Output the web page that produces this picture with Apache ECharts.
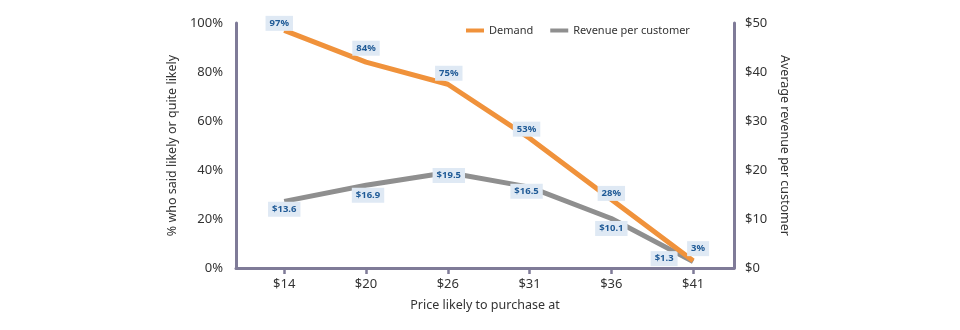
<!DOCTYPE html>
<html>
<head>
<meta charset="utf-8">
<script src="https://cdn.jsdelivr.net/npm/echarts@6/dist/echarts.min.js"></script>
<style>
  html, body { margin: 0; padding: 0; background: #fff; }
  #chart { width: 960px; height: 330px; }
</style>
</head>
<body>
<div id="chart"></div>
<script>
// Price points and survey results
const priceLabels = ['$14', '$20', '$26', '$31', '$36', '$41'];
const demandPct = [97, 84, 75, 53, 28, 3];
const revenuePerCustomer = [13.6, 16.9, 19.5, 16.5, 10.1, 1.3];
const leftTicks = [0, 20, 40, 60, 80, 100];
const rightTicks = [0, 10, 20, 30, 40, 50];

// Label nudges (pixels) so value tags sit clear of the lines
const demandLabelOffsets = [[-5, -7], [0, -14], [1, -11], [-3, -9], [0, -6], [5, -12]];
const revenueLabelOffsets = [[0, 8], [2, 10], [1, 3], [-3, 4], [0, 10], [-29, -3]];

const axisColor = '#7f7b98';
const textColor = '#333333';
const fontFamily = '"Noto Sans", "Open Sans", sans-serif';
const positions = priceLabels.map((_, i) => i);

const tagStyle = {
  show: true,
  position: 'inside',
  fontSize: 9.5,
  fontWeight: 'bold',
  fontFamily: fontFamily,
  color: '#1f5a96',
  backgroundColor: '#dfe9f4',
  padding: [3, 4, 2, 4]
};

function points(values, offsets, fmt) {
  return values.map((v, i) => ({
    value: [positions[i], v],
    label: { offset: offsets[i], formatter: fmt(v) }
  }));
}

const chart = echarts.init(document.getElementById('chart'), null, { renderer: 'canvas' });
chart.setOption({
  animation: false,
  textStyle: { fontFamily: fontFamily },
  legend: {
    top: 20,
    left: 461,
    itemWidth: 18,
    itemHeight: 4,
    itemGap: 17,
    icon: 'rect',
    textStyle: { fontSize: 11, color: textColor, fontFamily: fontFamily },
    data: ['Demand', 'Revenue per customer']
  },
  grid: { left: 236, right: 226, top: 23, bottom: 62, containLabel: false },
  xAxis: {
    type: 'value',
    min: -0.59,
    max: 5.5,
    name: 'Price likely to purchase at',
    nameLocation: 'middle',
    nameGap: 31,
    nameTextStyle: { fontSize: 12.5, color: textColor },
    axisLine: { show: true, onZero: false, lineStyle: { color: axisColor, width: 3 } },
    axisTick: { show: true, customValues: positions, length: 6, lineStyle: { color: axisColor, width: 2.5 } },
    axisLabel: {
      customValues: positions,
      formatter: v => priceLabels[Math.round(v)],
      fontSize: 13, color: textColor, margin: 10
    },
    splitLine: { show: false }
  },
  yAxis: [
    {
      type: 'value', min: 0, max: 100, interval: 20,
      name: '% who said likely or quite likely',
      nameLocation: 'middle', nameRotate: 90, nameGap: 54,
      nameTextStyle: { fontSize: 12.5, color: textColor },
      axisLine: { show: true, onZero: false, lineStyle: { color: axisColor, width: 3 } },
      axisTick: { show: false },
      axisLabel: { formatter: v => leftTicks.includes(v) ? v + '%' : '', fontSize: 13, color: textColor, margin: 13 },
      splitLine: { show: false }
    },
    {
      type: 'value', min: 0, max: 50, interval: 10,
      name: 'Average revenue per customer',
      nameLocation: 'middle', nameRotate: -90, nameGap: 42,
      nameTextStyle: { fontSize: 12.5, color: textColor },
      axisLine: { show: true, onZero: false, lineStyle: { color: axisColor, width: 3 } },
      axisTick: { show: false },
      axisLabel: { formatter: v => rightTicks.includes(v) ? '$' + v : '', fontSize: 13, color: textColor, margin: 11 },
      splitLine: { show: false }
    }
  ],
  series: [
    {
      name: 'Demand',
      type: 'line',
      yAxisIndex: 0,
      data: points(demandPct, demandLabelOffsets, v => v + '%'),
      symbol: 'circle', symbolSize: 0.1,
      color: '#f0923b',
      lineStyle: { width: 5, color: '#f0923b' },
      label: tagStyle,
      z: 3
    },
    {
      name: 'Revenue per customer',
      type: 'line',
      yAxisIndex: 1,
      data: points(revenuePerCustomer, revenueLabelOffsets, v => '$' + v.toFixed(1)),
      symbol: 'circle', symbolSize: 0.1,
      color: '#8f8f8f',
      lineStyle: { width: 5, color: '#8f8f8f' },
      label: tagStyle,
      z: 2
    }
  ]
});
</script>
</body>
</html>
